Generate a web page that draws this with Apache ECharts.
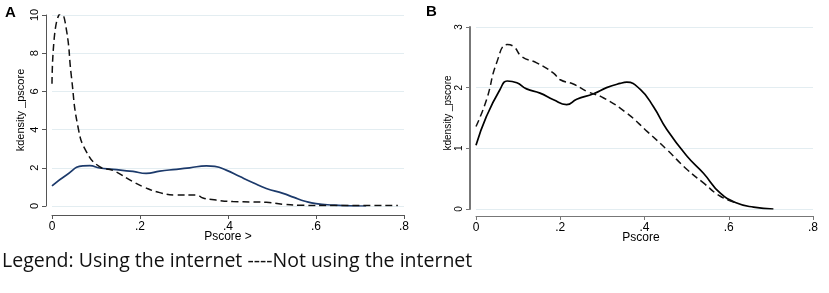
<!DOCTYPE html>
<html>
<head>
<meta charset="utf-8">
<script src="https://cdn.jsdelivr.net/npm/echarts@6/dist/echarts.min.js"></script>
<style>
  html, body { margin: 0; padding: 0; background: #fff; }
  #wrap { position: relative; width: 829px; height: 293px; }
  #main { position: absolute; left: 0; top: 0; width: 829px; height: 293px; }
  #pa { position: absolute; left: 0; top: 0; width: 420px; height: 245px; }
  #pb { position: absolute; left: 420px; top: 0; width: 409px; height: 245px; }
</style>
</head>
<body>
<div id="wrap">
  <div id="main"></div>
  <div id="pa"></div>
  <div id="pb"></div>
</div>
<script>
// panel A: [pscore, density]
var aUsing = [
  [0, 1.05], [0.033, 1.62], [0.07, 2.1], [0.086, 2.11], [0.108, 1.99], [0.139, 1.92],
  [0.184, 1.81], [0.214, 1.71], [0.245, 1.83], [0.283, 1.92], [0.313, 2.0], [0.351, 2.1],
  [0.37, 2.07], [0.396, 1.88], [0.427, 1.54], [0.457, 1.22], [0.487, 0.92], [0.525, 0.66],
  [0.55, 0.45], [0.575, 0.25], [0.6, 0.12], [0.64, 0.05], [0.68, 0.01], [0.714, 0.0]
];
var aNotUsing = [
  [0, 6.4], [0.006, 9.0], [0.021, 10.1], [0.033, 9.2], [0.044, 6.8], [0.059, 4.15],
  [0.078, 2.85], [0.108, 2.06], [0.139, 1.86], [0.184, 1.27], [0.207, 1.01], [0.245, 0.7],
  [0.283, 0.58], [0.328, 0.58], [0.343, 0.42], [0.373, 0.31], [0.411, 0.23], [0.457, 0.21],
  [0.487, 0.19], [0.525, 0.09], [0.563, 0.04], [0.64, 0.02], [0.786, 0.02]
];
// panel B
var bUsing = [
  [0, 1.05], [0.025, 1.53], [0.057, 1.97], [0.074, 2.11], [0.097, 2.08], [0.12, 1.98],
  [0.152, 1.91], [0.184, 1.8], [0.215, 1.72], [0.239, 1.81], [0.279, 1.9], [0.31, 2.0],
  [0.342, 2.07], [0.358, 2.09], [0.39, 1.97], [0.421, 1.69], [0.453, 1.31], [0.501, 0.87],
  [0.54, 0.59], [0.58, 0.26], [0.619, 0.1], [0.659, 0.03], [0.706, 0.0]
];
var bNotUsing = [
  [0, 1.36], [0.025, 1.8], [0.049, 2.41], [0.074, 2.71], [0.089, 2.68], [0.109, 2.51],
  [0.144, 2.41], [0.184, 2.24], [0.2, 2.13], [0.231, 2.06], [0.263, 1.94], [0.303, 1.83],
  [0.358, 1.58], [0.406, 1.28], [0.453, 0.98], [0.501, 0.65], [0.54, 0.43], [0.58, 0.21],
  [0.619, 0.1]
];
var legendText = "Legend: Using the internet ----Not using the internet";

function fmtX(v) {
  if (v === 0) return "0";
  return String(Math.round(v * 10) / 10).replace(/^0/, "");
}

function label(x, y, text, size, rot) {
  return {
    type: "text", x: x, y: y, rotation: rot || 0,
    style: { text: text, fontSize: size, fontFamily: "Liberation Sans", fill: "#000", align: "center", verticalAlign: "middle" }
  };
}

// one chart per panel
function panelOption(grid, yMax, yInt, xOff, lineColor, yLineWidth, yFont, using, notUsing, usingColor) {
  return {
    animation: false,
    grid: grid,
    xAxis: {
      type: "value", min: 0, max: 0.8, interval: 0.2, offset: xOff,
      axisLine: { show: true, onZero: false, lineStyle: { color: lineColor, width: 1 } },
      axisTick: { show: true, length: 4, lineStyle: { color: lineColor, width: 1 } },
      axisLabel: { color: "#000", fontSize: 12, margin: 6, fontFamily: "Liberation Sans", formatter: fmtX },
      splitLine: { show: false }
    },
    yAxis: {
      type: "value", min: 0, max: yMax, interval: yInt, offset: 6,
      axisLine: { show: true, onZero: false, lineStyle: { color: lineColor, width: yLineWidth } },
      axisTick: { show: true, length: 4, lineStyle: { color: lineColor, width: 1 } },
      axisLabel: { color: "#000", fontSize: yFont, margin: 6, rotate: 90, fontFamily: "Liberation Sans" },
      splitLine: { show: true, lineStyle: { color: "#e3edf1", width: 1 } }
    },
    series: [
      { type: "line", data: using, smooth: true, showSymbol: false, lineStyle: { color: usingColor, width: 1.7 } },
      { type: "line", data: notUsing, smooth: true, showSymbol: false, lineStyle: { color: "#111", width: 1.5, type: [7, 4] } }
    ]
  };
}

var mainChart = echarts.init(document.getElementById("main"));
mainChart.setOption({
  animation: false,
  graphic: [
    { type: "text", left: 5, top: 5, style: { text: "A", fontSize: 15, fontWeight: "bold", fontFamily: "Liberation Sans", fill: "#000" } },
    { type: "text", left: 426, top: 4, style: { text: "B", fontSize: 15, fontWeight: "bold", fontFamily: "Liberation Sans", fill: "#000" } },
    label(21, 110, "kdensity _pscore", 11, Math.PI / 2),
    label(448, 113, "kdensity _pscore", 10, Math.PI / 2),
    label(228, 237, "Pscore >", 12),
    label(641, 238, "Pscore", 12),
    { type: "text", left: 2, top: 251,
      style: { text: legendText, fontSize: 19.5, fontFamily: "Open Sans", fill: "#111" } }
  ]
});

var chartA = echarts.init(document.getElementById("pa"));
chartA.setOption(panelOption({ left: 52, right: 16, top: 15, bottom: 39 }, 10, 2, 9, "#555", 1, 11,
  aUsing, aNotUsing, "#1c3a6b"));

var chartB = echarts.init(document.getElementById("pb"));
chartB.setOption(panelOption({ left: 56, right: 16, top: 27, bottom: 36 }, 3, 1, 7, "#777", 2, 10,
  bUsing, bNotUsing, "#000"));
</script>
</body>
</html>
